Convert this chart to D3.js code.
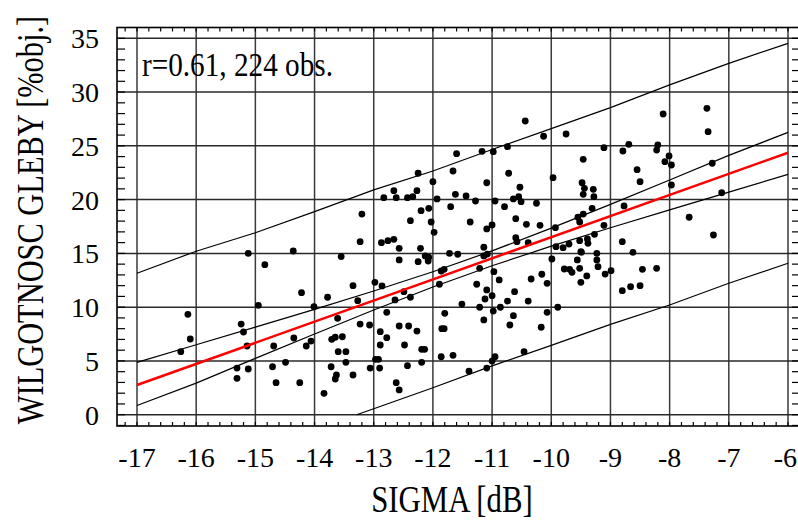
<!DOCTYPE html>
<html>
<head>
<meta charset="utf-8">
<script src="https://cdn.jsdelivr.net/npm/d3@7/dist/d3.min.js"></script>
<style>
  html, body { margin: 0; padding: 0; background: #fff; }
  svg { display: block; }
  text { font-family: "Liberation Serif", "Times New Roman", serif; fill: #000; }
</style>
</head>
<body>
<svg id="chart" width="798" height="520"></svg>
<script>
// ---- data ----
const sigma = [
  -13.20,-13.23,-15.12,-14.36,-13.55,-14.84,-12.98,-13.35,-14.22,-13.78,
  -13.27,-14.95,-14.01,-16.14,-13.61,-13.23,-13.07,-15.24,-15.20,-16.10,
  -14.35,-14.06,-14.14,-14.69,-15.14,-13.71,-13.65,-13.53,-13.60,-13.47,
  -13.47,-16.26,-15.31,-15.12,-15.31,-14.71,-14.49,-14.65,-14.25,-13.84,
  -13.72,-13.63,-13.65,-13.35,-13.06,-12.89,-12.89,-12.97,-12.92,-12.90,
  -11.72,-11.58,-11.14,-11.08,-12.13,-12.07,-12.08,-12.25,-12.57,-11.86,
  -11.81,-11.21,-10.97,-10.88,-12.86,-12.49,-12.64,-12.38,-11.89,-11.26,
  -11.09,-11.12,-11.00,-10.62,-10.74,-10.39,-10.34,-10.16,-10.07,-9.99,
  -9.78,-9.69,-9.65,-9.50,-9.40,-9.56,-9.52,-9.49,-9.23,-9.23,
  -9.21,-9.09,-8.99,-11.51,-11.21,-10.98,-10.86,-11.14,-10.64,-10.70,
  -10.17,-10.07,-9.89,-11.80,-11.81,-11.85,-12.78,-12.78,-12.57,-12.41,
  -12.27,-12.48,-12.19,-12.14,-12.43,-12.19,-11.86,-11.66,-12.62,-12.57,
  -11.39,-11.09,-11.00,-10.95,-10.46,-8.62,-8.46,-8.22,-8.80,-8.66,
  -8.50,-10.44,-10.13,-9.75,-9.11,-11.60,-11.17,-10.98,-10.74,-9.46,
  -12.25,-11.66,-10.72,-9.97,-12.00,-11.09,-10.53,-9.48,-9.44,-9.29,
  -12.66,-12.27,-12.83,-12.62,-12.43,-12.34,-11.62,-11.44,-11.93,-11.28,
  -10.95,-10.64,-10.55,-10.51,-10.25,-9.46,-9.28,-11.70,-10.79,-12.07,
  -12.20,-9.31,-9.46,-9.55,-12.38,-12.03,-11.37,-11.00,-11.09,-10.60,
  -10.42,-10.19,-9.93,-9.52,-9.11,-11.98,-9.27,-10.60,-10.58,-10.39,
  -12.87,-12.76,-12.66,-12.57,-12.21,-11.14,-9.92,-9.80,-9.70,-9.52,
  -9.39,-9.38,-9.50,-7.37,-7.35,-8.11,-8.69,-8.79,-8.20,-8.22,
  -8.01,-8.08,-7.97,-8.55,-8.50,-7.97,-7.28,-7.12,-8.77,-7.67,
  -8.80,-7.26
];
const moisture = [
  18.66,16.09,15.00,15.22,14.70,13.95,12.31,12.00,11.35,10.92,
  10.60,10.17,10.04,9.33,8.96,8.43,8.34,8.43,7.69,7.04,
  7.13,6.85,6.39,6.39,6.39,7.01,7.20,7.25,5.86,5.86,
  4.87,5.86,4.34,4.25,3.38,4.46,4.87,2.98,2.98,1.99,
  4.46,3.69,3.32,3.69,4.34,7.72,6.48,5.15,5.15,4.34,
  15.01,14.92,14.76,14.94,14.76,14.64,14.29,14.23,14.39,13.36,
  13.52,13.61,13.30,12.53,11.97,11.44,10.67,10.92,12.13,12.13,
  11.60,10.76,11.07,11.44,10.57,10.57,12.62,13.06,12.22,14.48,
  13.55,13.52,13.24,12.31,12.90,14.39,13.61,15.10,15.01,14.39,
  13.76,13.08,13.39,10.29,9.99,9.64,9.99,8.81,9.21,8.34,
  8.13,9.52,9.99,9.43,8.00,8.00,9.52,7.16,8.25,8.25,
  7.78,6.48,6.08,6.08,4.56,4.87,5.39,5.52,2.98,2.30,
  4.04,4.34,4.99,5.39,5.86,15.10,13.52,13.61,11.53,11.90,
  12.00,27.31,25.89,26.10,24.83,24.27,24.49,24.46,24.92,23.75,
  22.45,22.66,22.45,22.04,21.67,21.57,21.15,21.57,21.05,20.96,
  20.83,20.83,20.18,20.18,20.18,20.27,20.49,20.34,20.06,19.87,
  19.87,20.06,20.27,19.81,19.66,20.49,20.27,19.34,19.34,19.19,
  18.97,19.19,18.66,18.36,18.04,17.92,17.92,17.64,17.27,18.23,
  17.70,17.61,17.39,17.92,17.61,16.96,16.77,16.46,16.09,16.00,
  16.00,16.18,16.31,15.47,15.47,15.57,15.62,15.53,15.87,16.18,
  16.34,15.94,15.16,28.49,26.32,27.96,25.14,24.52,25.08,24.61,
  24.06,23.53,23.22,22.78,21.67,21.36,23.38,20.64,19.41,18.36,
  16.09,16.71
];

// regression line and bands (values read at integer sigma)
const regX = [-17, -6];
const regY = [2.76, 24.36];
const bandX      = [-17, -16, -15, -14, -13, -12, -11, -10, -9, -8, -7, -6];
const confUpper  = [4.87, 6.50, 8.14, 9.80, 11.50, 13.29, 15.23, 17.35, 19.56, 21.83, 24.11, 26.25];
const confLower  = [0.85, 2.94, 5.24, 7.50, 9.74, 11.87, 13.85, 15.67, 17.38, 19.05, 20.69, 22.35];
const predUpper  = [13.15, 15.20, 16.92, 18.88, 20.90, 22.66, 24.66, 26.60, 28.55, 30.67, 32.67, 34.53];
const predLowerX = [-13.29, -13, -12, -11, -10, -9, -8, -7, -6];
const predLowerY = [0, 0.55, 2.51, 4.54, 6.45, 8.40, 10.20, 12.22, 14.08];

const xTicks = [-17, -16, -15, -14, -13, -12, -11, -10, -9, -8, -7, -6];
const xTickLabels = ["-17", "-16", "-15", "-14", "-13", "-12", "-11", "-10", "-9", "-8", "-7", "-6"];
const yTicks = [0, 5, 10, 15, 20, 25, 30, 35];
const yTickLabels = ["0", "5", "10", "15", "20", "25", "30", "35"];

const xTitle = "SIGMA [dB]";
const yTitle = "WILGOTNOSC GLEBY [%obj.]";
const note = "r=0.61, 224 obs.";

// ---- layout ----
const W = 798;
const svg = d3.select("#chart");
const frame = { left: 117, right: 800, top: 27.5, bottom: 426 };
const x = d3.scaleLinear().domain([-17, -6]).range([137, 788]);
const y = d3.scaleLinear().domain([0, 35]).range([414.7, 38.3]);

svg.append("defs").append("clipPath").attr("id", "plotclip")
  .append("rect")
  .attr("x", frame.left).attr("y", frame.top)
  .attr("width", frame.right - frame.left).attr("height", frame.bottom - frame.top);

// grid lines
const grid = svg.append("g");
grid.selectAll("line.vx").data(xTicks).join("line")
  .attr("x1", d => x(d)).attr("x2", d => x(d))
  .attr("y1", frame.top).attr("y2", frame.bottom)
  .attr("stroke", "#3a3a3a").attr("stroke-width", 1.5);
grid.selectAll("line.hy").data(yTicks).join("line")
  .attr("x1", frame.left).attr("x2", frame.right)
  .attr("y1", d => y(d)).attr("y2", d => y(d))
  .attr("stroke", "#2a2a2a").attr("stroke-width", 1.5);

// minor ticks
const xMinor = d3.range(-17.2, -5.8, 0.2).map(v => +v.toFixed(1));
const yMinor = d3.range(-1, 36, 1);
const ticks = svg.append("g").attr("stroke", "#000").attr("stroke-width", 1.2);
xMinor.forEach(v => {
  const px = x(v);
  if (px < frame.left || px > frame.right) return;
  ticks.append("line").attr("x1", px).attr("x2", px).attr("y1", frame.bottom).attr("y2", frame.bottom - 4);
  ticks.append("line").attr("x1", px).attr("x2", px).attr("y1", frame.top).attr("y2", frame.top + 4);
});
yMinor.forEach(v => {
  const py = y(v);
  if (py < frame.top || py > frame.bottom) return;
  ticks.append("line").attr("x1", frame.left).attr("x2", frame.left + 8).attr("y1", py).attr("y2", py);
  ticks.append("line").attr("x1", frame.right).attr("x2", frame.right - 8).attr("y1", py).attr("y2", py);
});

// frame
svg.append("rect")
  .attr("x", frame.left).attr("y", frame.top)
  .attr("width", frame.right - frame.left).attr("height", frame.bottom - frame.top)
  .attr("fill", "none").attr("stroke", "#000").attr("stroke-width", 1.6);

const plot = svg.append("g").attr("clip-path", "url(#plotclip)");
const line = d3.line().x(d => x(d[0])).y(d => y(d[1]));

const bandSeries = [
  d3.zip(bandX, confUpper),
  d3.zip(bandX, confLower),
  d3.zip(bandX, predUpper),
  d3.zip(predLowerX, predLowerY)
];
plot.selectAll("path.band").data(bandSeries).join("path")
  .attr("d", line).attr("fill", "none").attr("stroke", "#000").attr("stroke-width", 1.2);

// points
plot.selectAll("circle").data(d3.zip(sigma, moisture)).join("circle")
  .attr("cx", d => x(d[0])).attr("cy", d => y(d[1])).attr("r", 3.4).attr("fill", "#000");

// regression line
plot.append("path").datum(d3.zip(regX, regY))
  .attr("d", line).attr("fill", "none").attr("stroke", "#ff0000").attr("stroke-width", 2.5);

// tick labels (last one kept inside the window, as in the reference)
svg.append("g").selectAll("text").data(xTicks).join("text")
  .attr("x", (d, i) => i === xTicks.length - 1 ? W - 1 : x(d))
  .attr("y", 467)
  .attr("text-anchor", (d, i) => i === xTicks.length - 1 ? "end" : "middle")
  .attr("font-size", 28)
  .text((d, i) => xTickLabels[i]);
svg.append("g").selectAll("text").data(yTicks).join("text")
  .attr("x", 99).attr("y", d => y(d) + 10)
  .attr("text-anchor", "end").attr("font-size", 28)
  .text((d, i) => yTickLabels[i]);

// titles
svg.append("text")
  .attr("transform", "translate(452,512) scale(0.81,1)")
  .attr("text-anchor", "middle").attr("font-size", 38)
  .text(xTitle);
svg.append("text")
  .attr("transform", "translate(43,220) rotate(-90) scale(0.8,1)")
  .attr("text-anchor", "middle").attr("font-size", 38)
  .text(yTitle);
svg.append("text")
  .attr("transform", "translate(142,76) scale(0.86,1)")
  .attr("font-size", 34)
  .text(note);
</script>
</body>
</html>
